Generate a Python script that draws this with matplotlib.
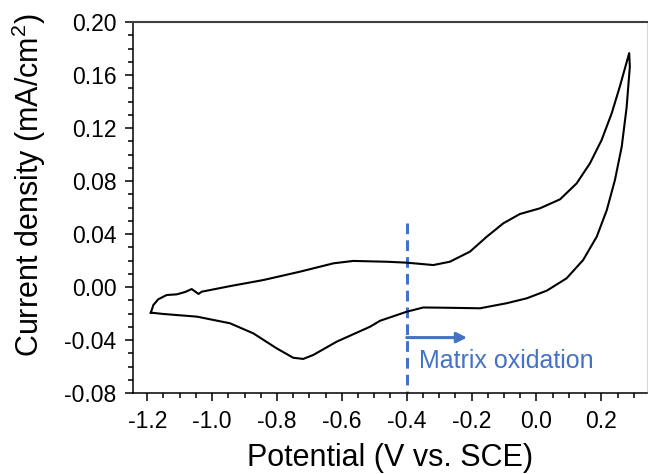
import matplotlib
matplotlib.use("Agg")
import matplotlib.pyplot as plt
from matplotlib.ticker import MultipleLocator, FormatStrFormatter

plt.rcParams['font.family'] = ['Liberation Sans', 'DejaVu Sans']
plt.rcParams['mathtext.fontset'] = 'custom'
plt.rcParams['mathtext.rm'] = 'Liberation Sans'
plt.rcParams['mathtext.default'] = 'regular'

# Anodic (forward) sweep: potential (V vs. SCE) and current density (mA/cm2)
E_fwd = [-1.189, -1.181, -1.166, -1.140, -1.109, -1.083, -1.063, -1.042, -1.032,
         -0.945, -0.842, -0.729, -0.626, -0.565, -0.462, -0.400, -0.318, -0.267,
         -0.205, -0.153, -0.102, -0.051, 0.011, 0.073, 0.124, 0.165, 0.201,
         0.232, 0.257, 0.286]
j_fwd = [-0.0192, -0.0134, -0.0091, -0.0059, -0.0054, -0.0036, -0.0014, -0.0051, -0.0034,
         0.0008, 0.0054, 0.0117, 0.0180, 0.0198, 0.0192, 0.0185, 0.0167, 0.0192,
         0.0268, 0.0381, 0.0482, 0.0552, 0.0595, 0.0663, 0.0783, 0.0934, 0.1110,
         0.1311, 0.1512, 0.1765]

# Cathodic (reverse) sweep
E_rev = [0.288, 0.278, 0.263, 0.242, 0.217, 0.186, 0.144, 0.093, 0.032, -0.030,
         -0.092, -0.174, -0.277, -0.349, -0.400, -0.482, -0.513, -0.616, -0.688,
         -0.719, -0.750, -0.801, -0.873, -0.945, -1.047, -1.150, -1.189]
j_rev = [0.1663, 0.1354, 0.1060, 0.0808, 0.0582, 0.0381, 0.0205, 0.0067, -0.0026, -0.0084,
         -0.0121, -0.0159, -0.0155, -0.0153, -0.0185, -0.0253, -0.0298, -0.0411, -0.0511,
         -0.0541, -0.0532, -0.0461, -0.0348, -0.0272, -0.0222, -0.0202, -0.0192]

onset_potential = -0.40
annotation_text = "Matrix oxidation"
x_label = "Potential (V vs. SCE)"
y_label = "Current density (mA/cm$^{2}$)"

blue = "#4472C4"

fig = plt.figure(figsize=(6.48, 4.74), dpi=100)
ax = fig.add_axes([0.2052, 0.1703, 0.7933, 0.7833])

ax.plot(E_fwd + E_rev, j_fwd + j_rev, color="black", lw=1.5,
        solid_joinstyle="round", zorder=3)

# Onset marker and annotation
ax.plot([onset_potential, onset_potential], [0.0484, -0.08], color=blue, lw=2.2,
        linestyle=(0, (3.5, 2.0)), zorder=2, clip_on=False)
ax.annotate("", xy=(-0.214, -0.038), xytext=(onset_potential, -0.038),
            arrowprops=dict(arrowstyle="-|>", color=blue, lw=2.2,
                            mutation_scale=15, shrinkA=0, shrinkB=0))
ax.text(-0.362, -0.0612, annotation_text, color=blue, fontsize=18,
        ha="left", va="baseline")

ax.set_xlim(-1.244, 0.341)
ax.set_ylim(-0.08, 0.20)

ax.xaxis.set_major_locator(MultipleLocator(0.2))
ax.xaxis.set_minor_locator(MultipleLocator(0.05))
ax.yaxis.set_major_locator(MultipleLocator(0.04))
ax.yaxis.set_minor_locator(MultipleLocator(0.01))
ax.xaxis.set_major_formatter(FormatStrFormatter("%.1f"))
ax.yaxis.set_major_formatter(FormatStrFormatter("%.2f"))

ax.tick_params(which="both", direction="out", top=False, right=False,
               width=1.1, color="black", labelsize=16.5, labelcolor="black")
ax.tick_params(which="major", length=6)
ax.tick_params(which="minor", length=3.5)
ax.tick_params(axis="x", which="major", pad=6)
ax.tick_params(axis="y", which="major", pad=6)

for side in ("left", "bottom"):
    ax.spines[side].set_linewidth(1.1)
    ax.spines[side].set_color("black")
ax.spines["top"].set_linewidth(1.5)
ax.spines["top"].set_color("#404040")
ax.spines["right"].set_linewidth(0.8)
ax.spines["right"].set_color("#d8d8d8")

ax.set_xlabel(x_label, fontsize=22, ha="center", va="center")
ax.xaxis.set_label_coords(0.5, -0.174)
ax.set_ylabel(y_label, fontsize=22, ha="center", va="center")
ax.yaxis.set_label_coords(-0.203, 0.561)

fig.savefig("out.png", dpi=100)
